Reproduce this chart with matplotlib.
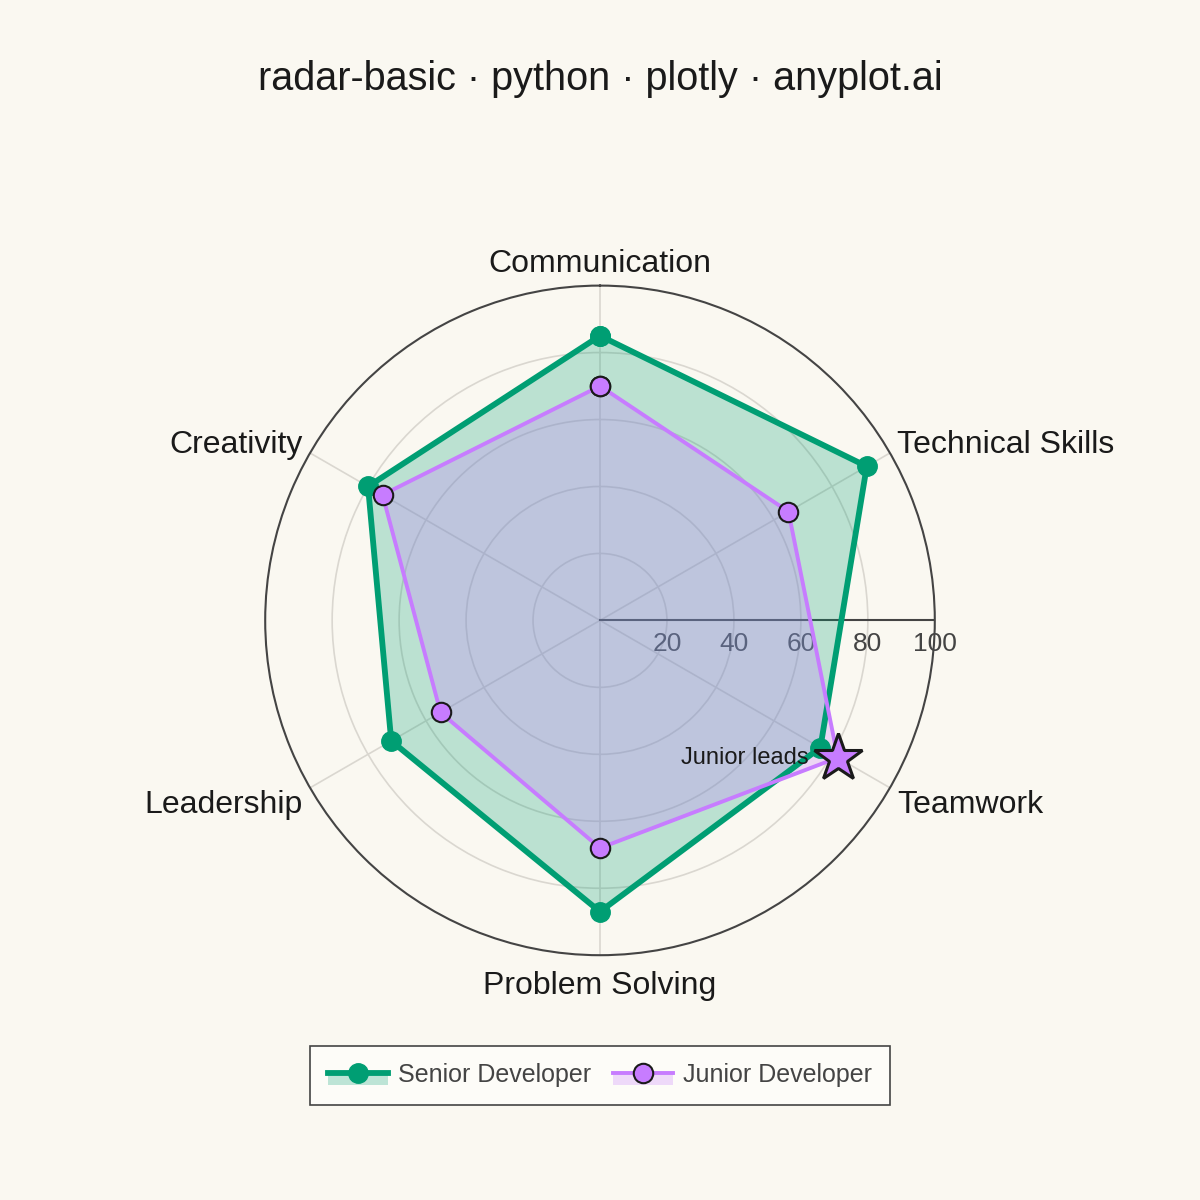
import numpy as np
import matplotlib
matplotlib.use('Agg')
import matplotlib.pyplot as plt
import matplotlib.transforms as mtransforms
from matplotlib.patches import Patch, Rectangle
from matplotlib.lines import Line2D
from matplotlib.legend_handler import HandlerTuple, HandlerPatch

plt.rcParams['font.family'] = ['Liberation Sans', 'DejaVu Sans']

categories = ['Communication', 'Technical Skills', 'Teamwork',
              'Problem Solving', 'Leadership', 'Creativity']
senior = [85, 92, 76, 87, 72, 80]
junior = [70, 65, 82, 68, 55, 75]
rticks = [20, 40, 60, 80, 100]

bg = '#FAF8F1'
senior_col = '#009E73'
junior_col = '#C77CFF'
ink = '#1a1a1a'

n = len(categories)
angles = np.linspace(0, 2 * np.pi, n, endpoint=False)
closed = np.append(angles, angles[0])
s_closed = np.append(senior, senior[0])
j_closed = np.append(junior, junior[0])

fig = plt.figure(figsize=(12, 12), dpi=100, facecolor=bg)
ax = fig.add_axes([0.221, 0.204, 0.558, 0.558], projection='polar')
ax.set_facecolor(bg)
ax.set_theta_zero_location('N')
ax.set_theta_direction(-1)
ax.set_ylim(0, 100)

ax.set_xticks(angles)
ax.set_xticklabels([])
ax.set_yticks(rticks[:-1])
ax.set_yticklabels([])
ax.grid(True, color='#DAD7D0', linewidth=1.2)
ax.spines['polar'].set_color('#444444')
ax.spines['polar'].set_linewidth(1.5)

# radial axis line + its labels
ax.plot([np.pi / 2, np.pi / 2], [0, 100], color='#444444', lw=1.5, zorder=2)
off = mtransforms.offset_copy(ax.transData, fig=fig, x=0, y=-24, units='dots')
for v in rticks:
    ax.text(np.pi / 2, v, str(v), transform=off, ha='center', va='center',
            fontsize=19, color='#444444')

# series
ax.fill(closed, s_closed, color=senior_col, alpha=0.25, lw=0, zorder=3)
ax.fill(closed, j_closed, color=junior_col, alpha=0.27, lw=0, zorder=4)
ax.plot(closed, s_closed, color=senior_col, lw=4.2, marker='o', ms=14,
        zorder=5)
ax.plot(closed, j_closed, color=junior_col, lw=2.8, marker='o', ms=14,
        mec=ink, mew=1.5, zorder=6)

# highlight where junior leads
lead = int(np.argmax(np.array(junior) - np.array(senior)))
ax.plot(angles[lead], junior[lead], marker='*', ms=36, color=junior_col,
        mec=ink, mew=2.2, zorder=7, clip_on=False)
ax.annotate('Junior leads', xy=(angles[lead], junior[lead]), xytext=(-21, 0),
            textcoords='offset points', ha='right', va='center',
            fontsize=17, color=ink, zorder=8)

# category labels (angle in degrees, radius, alignment)
label_pos = [(0, 106.5, 'center'), (59.4, 103, 'left'), (121.9, 104.5, 'left'),
             (180, 109.3, 'center'), (238.1, 104.5, 'right'), (300.6, 103, 'right')]
for name, (deg, r, ha) in zip(categories, label_pos):
    ax.text(np.deg2rad(deg), r, name, ha=ha, va='center', fontsize=23,
            color=ink, clip_on=False)

fig.text(0.5, 0.934, 'radar-basic · python · plotly · anyplot.ai',
         ha='center', va='center', fontsize=28.5, color=ink)


def lower_strip(legend, orig_handle, xdescent, ydescent, width, height, fontsize):
    return Rectangle((-xdescent, -ydescent - height * 0.15), width, height * 0.6)


handles = [
    (Patch(facecolor=senior_col, alpha=0.25),
     Line2D([], [], color=senior_col, lw=4.2, marker='o', ms=14)),
    (Patch(facecolor=junior_col, alpha=0.27),
     Line2D([], [], color=junior_col, lw=2.8, marker='o', ms=14,
            mec=ink, mew=1.5)),
]
leg = fig.legend(handles, ['Senior Developer', 'Junior Developer'],
                 handler_map={tuple: HandlerTuple(ndivide=1),
                              Patch: HandlerPatch(patch_func=lower_strip)},
                 loc='center', bbox_to_anchor=(0.5, 0.104), ncol=2,
                 fontsize=18, frameon=True, fancybox=False,
                 edgecolor='#444444', facecolor='#FDFCF8', framealpha=1,
                 handlelength=2.4, handletextpad=0.4, columnspacing=0.9,
                 borderpad=0.7)
leg.get_frame().set_linewidth(1.2)
for t in leg.get_texts():
    t.set_color('#444444')

fig.savefig('out.png', dpi=100, facecolor=bg)
